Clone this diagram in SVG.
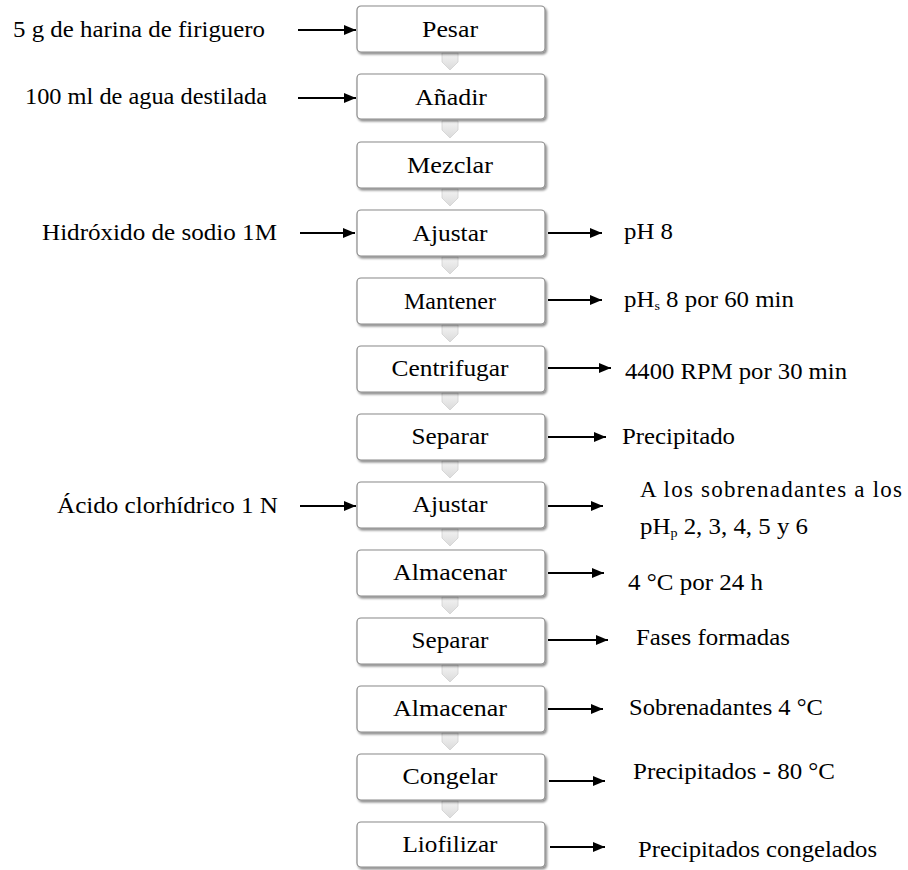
<svg xmlns="http://www.w3.org/2000/svg" width="908" height="870" viewBox="0 0 908 870" font-family="Liberation Serif, Times New Roman, serif">
  <style>
    text { font-size: 23px; fill: #000; }
    .box { fill: #fff; stroke: #8a8a8a; stroke-width: 1.2; }
    .lbl { text-anchor: middle; }
    .arr { stroke: #000; stroke-width: 2; fill: none; marker-end: url(#ah); }
    .chev { fill: url(#cg); stroke: #d0d0d0; stroke-width: 0.8; }
    .sub { font-size: 13px; }
  </style>
  <defs>
    <marker id="ah" viewBox="0 0 12 10" refX="12" refY="5" markerWidth="12" markerHeight="10" markerUnits="userSpaceOnUse" orient="auto">
      <path d="M0,0 L12,5 L0,10 z" fill="#000"/>
    </marker>
    <linearGradient id="cg" x1="0" y1="0" x2="0" y2="1">
      <stop offset="0" stop-color="#f4f4f4"/>
      <stop offset="1" stop-color="#dadada"/>
    </linearGradient>
    <filter id="sh" x="-5%" y="-20%" width="115%" height="150%">
      <feDropShadow dx="1.5" dy="2" stdDeviation="1.2" flood-color="#000" flood-opacity="0.45"/>
    </filter>
    <path id="chv" d="M-8,0 H8 V9 L0,17 L-8,9 Z"/>
  </defs>

  <g id="connectors">
    <use href="#chv" class="chev" x="450" y="53"/>
    <use href="#chv" class="chev" x="450" y="121"/>
    <use href="#chv" class="chev" x="450" y="189"/>
    <use href="#chv" class="chev" x="450" y="257"/>
    <use href="#chv" class="chev" x="450" y="325"/>
    <use href="#chv" class="chev" x="450" y="393"/>
    <use href="#chv" class="chev" x="450" y="461"/>
    <use href="#chv" class="chev" x="450" y="529"/>
    <use href="#chv" class="chev" x="450" y="597"/>
    <use href="#chv" class="chev" x="450" y="665"/>
    <use href="#chv" class="chev" x="450" y="733"/>
    <use href="#chv" class="chev" x="450" y="801"/>

    <line class="arr" x1="298" y1="30" x2="356" y2="30"/>
    <line class="arr" x1="298" y1="98" x2="356" y2="98"/>
    <line class="arr" x1="300" y1="233" x2="355" y2="233"/>
    <line class="arr" x1="300" y1="506" x2="356" y2="506"/>

    <line class="arr" x1="548" y1="233" x2="602" y2="233"/>
    <line class="arr" x1="548" y1="300" x2="602" y2="300"/>
    <line class="arr" x1="548" y1="368" x2="611" y2="368"/>
    <line class="arr" x1="548" y1="437" x2="606" y2="437"/>
    <line class="arr" x1="548" y1="506" x2="603" y2="506"/>
    <line class="arr" x1="548" y1="573" x2="604" y2="573"/>
    <line class="arr" x1="548" y1="640" x2="608" y2="640"/>
    <line class="arr" x1="548" y1="709" x2="603" y2="709"/>
    <line class="arr" x1="549" y1="781" x2="605" y2="781"/>
    <line class="arr" x1="550" y1="847" x2="605" y2="847"/>
  </g>

  <g id="n1"><rect class="box" filter="url(#sh)" x="357" y="6" width="188" height="46" rx="4"/><text class="lbl" x="450" y="37" textLength="56" lengthAdjust="spacingAndGlyphs">Pesar</text></g>
  <g id="n2"><rect class="box" filter="url(#sh)" x="357" y="74" width="188" height="45" rx="4"/><text class="lbl" x="451" y="105" textLength="72" lengthAdjust="spacingAndGlyphs">Añadir</text></g>
  <g id="n3"><rect class="box" filter="url(#sh)" x="357" y="142" width="188" height="46" rx="4"/><text class="lbl" x="450" y="173" textLength="86" lengthAdjust="spacingAndGlyphs">Mezclar</text></g>
  <g id="n4"><rect class="box" filter="url(#sh)" x="357" y="210" width="188" height="46" rx="4"/><text class="lbl" x="450" y="241" textLength="75" lengthAdjust="spacingAndGlyphs">Ajustar</text></g>
  <g id="n5"><rect class="box" filter="url(#sh)" x="357" y="278" width="188" height="46" rx="4"/><text class="lbl" x="450" y="309" textLength="92" lengthAdjust="spacingAndGlyphs">Mantener</text></g>
  <g id="n6"><rect class="box" filter="url(#sh)" x="357" y="346" width="188" height="46" rx="4"/><text class="lbl" x="450" y="376" textLength="117" lengthAdjust="spacingAndGlyphs">Centrifugar</text></g>
  <g id="n7"><rect class="box" filter="url(#sh)" x="357" y="414" width="188" height="46" rx="4"/><text class="lbl" x="450" y="444" textLength="77" lengthAdjust="spacingAndGlyphs">Separar</text></g>
  <g id="n8"><rect class="box" filter="url(#sh)" x="357" y="482" width="188" height="46" rx="4"/><text class="lbl" x="450" y="512" textLength="75" lengthAdjust="spacingAndGlyphs">Ajustar</text></g>
  <g id="n9"><rect class="box" filter="url(#sh)" x="357" y="550" width="188" height="46" rx="4"/><text class="lbl" x="450" y="580" textLength="114" lengthAdjust="spacingAndGlyphs">Almacenar</text></g>
  <g id="n10"><rect class="box" filter="url(#sh)" x="357" y="618" width="188" height="46" rx="4"/><text class="lbl" x="450" y="648" textLength="77" lengthAdjust="spacingAndGlyphs">Separar</text></g>
  <g id="n11"><rect class="box" filter="url(#sh)" x="357" y="686" width="188" height="46" rx="4"/><text class="lbl" x="450" y="716" textLength="114" lengthAdjust="spacingAndGlyphs">Almacenar</text></g>
  <g id="n12"><rect class="box" filter="url(#sh)" x="357" y="754" width="188" height="46" rx="4"/><text class="lbl" x="450" y="784" textLength="95" lengthAdjust="spacingAndGlyphs">Congelar</text></g>
  <g id="n13"><rect class="box" filter="url(#sh)" x="357" y="822" width="188" height="45" rx="4"/><text class="lbl" x="450" y="852" textLength="95" lengthAdjust="spacingAndGlyphs">Liofilizar</text></g>

  <g id="inputs">
    <text x="13" y="37" textLength="252" lengthAdjust="spacingAndGlyphs">5 g de harina de firiguero</text>
    <text x="25" y="104" textLength="242" lengthAdjust="spacingAndGlyphs">100 ml de agua destilada</text>
    <text x="42" y="240" textLength="235" lengthAdjust="spacingAndGlyphs">Hidróxido de sodio 1M</text>
    <text x="57" y="513" textLength="221" lengthAdjust="spacingAndGlyphs">Ácido clorhídrico 1 N</text>
  </g>

  <g id="outputs">
    <text x="624" y="239" textLength="49" lengthAdjust="spacingAndGlyphs">pH 8</text>
    <text x="624" y="307" textLength="170" lengthAdjust="spacingAndGlyphs">pH<tspan class="sub" dy="3">s</tspan><tspan dy="-3"> 8 por 60 min</tspan></text>
    <text x="625" y="379" textLength="222" lengthAdjust="spacingAndGlyphs">4400 RPM por 30 min</text>
    <text x="622" y="444" textLength="113" lengthAdjust="spacingAndGlyphs">Precipitado</text>
    <text x="640" y="497" textLength="262" lengthAdjust="spacing">A los sobrenadantes a los</text>
    <text x="640" y="534" textLength="168" lengthAdjust="spacingAndGlyphs">pH<tspan class="sub" dy="3">p</tspan><tspan dy="-3"> 2, 3, 4, 5 y 6</tspan></text>
    <text x="628" y="590" textLength="135" lengthAdjust="spacingAndGlyphs">4 °C por 24 h</text>
    <text x="636" y="645" textLength="154" lengthAdjust="spacingAndGlyphs">Fases formadas</text>
    <text x="629" y="715" textLength="194" lengthAdjust="spacingAndGlyphs">Sobrenadantes 4 °C</text>
    <text x="633" y="779" textLength="202" lengthAdjust="spacingAndGlyphs">Precipitados - 80 °C</text>
    <text x="638" y="857" textLength="239" lengthAdjust="spacingAndGlyphs">Precipitados congelados</text>
  </g>
</svg>
